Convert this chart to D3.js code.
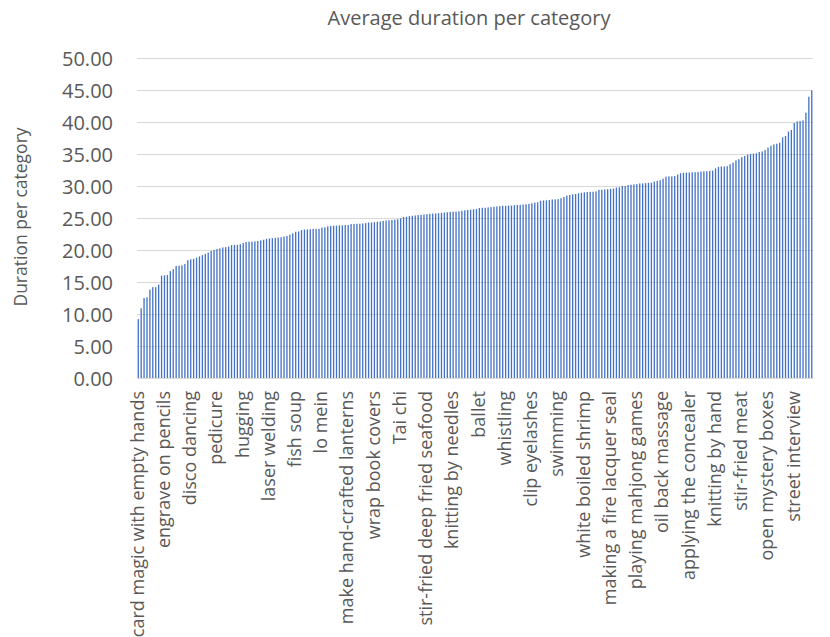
<!DOCTYPE html>
<html>
<head>
<meta charset="utf-8">
<script src="https://cdn.jsdelivr.net/npm/d3@7"></script>
<style>
  html, body { margin: 0; padding: 0; background: #fff; }
  svg { display: block; }
  svg text { font-family: "Open Sans", "Noto Sans", sans-serif; }
</style>
</head>
<body>
<svg id="chart" width="830" height="637"></svg>
<script>
// ---- data ----
const title = "Average duration per category";
const yTitle = "Duration per category";
const yTicks = [0, 5, 10, 15, 20, 25, 30, 35, 40, 45, 50];
const labelEvery = 9;
const tickLabels = [
  "card magic with empty hands", "engrave on pencils", "disco dancing", "pedicure",
  "hugging", "laser welding", "fish soup", "lo mein", "make hand-crafted lanterns",
  "wrap book covers", "Tai chi", "stir-fried deep fried seafood", "knitting by needles",
  "ballet", "whistling", "clip eyelashes", "swimming", "white boiled shrimp",
  "making a fire lacquer seal", "playing mahjong games", "oil back massage",
  "applying the concealer", "knitting by hand", "stir-fried meat",
  "open mystery boxes", "street interview"
];
const values = [
  9.2, 10.9, 12.5, 12.6, 13.8, 14.2, 14.2, 14.6, 16.0, 16.05,
  16.1, 16.7, 17.0, 17.5, 17.55, 17.6, 17.8, 18.4, 18.55, 18.6,
  18.8, 19.0, 19.2, 19.4, 19.6, 19.85, 20.0, 20.15, 20.25, 20.4,
  20.45, 20.55, 20.75, 20.8, 20.8, 20.9, 21.1, 21.25, 21.3, 21.3,
  21.35, 21.4, 21.5, 21.6, 21.75, 21.8, 21.85, 21.9, 21.95, 22.0,
  22.1, 22.2, 22.4, 22.6, 22.85, 22.9, 23.1, 23.2, 23.2, 23.25,
  23.3, 23.3, 23.3, 23.5, 23.55, 23.7, 23.75, 23.8, 23.8, 23.85,
  23.85, 23.9, 23.9, 24.05, 24.05, 24.1, 24.1, 24.15, 24.2, 24.3,
  24.3, 24.35, 24.4, 24.45, 24.55, 24.6, 24.65, 24.7, 24.75, 24.8,
  24.95, 25.15, 25.2, 25.3, 25.35, 25.4, 25.45, 25.5, 25.55, 25.6,
  25.65, 25.7, 25.7, 25.75, 25.8, 25.85, 25.9, 25.95, 26.0, 26.0,
  26.05, 26.15, 26.2, 26.25, 26.3, 26.35, 26.4, 26.55, 26.6, 26.6,
  26.65, 26.7, 26.75, 26.8, 26.85, 26.9, 26.9, 26.95, 26.95, 27.0,
  27.05, 27.05, 27.1, 27.15, 27.2, 27.3, 27.4, 27.45, 27.7, 27.75,
  27.75, 27.8, 27.9, 27.9, 27.95, 28.1, 28.3, 28.5, 28.6, 28.7,
  28.75, 28.85, 28.95, 29.0, 29.05, 29.1, 29.1, 29.15, 29.4, 29.4,
  29.45, 29.5, 29.55, 29.6, 29.75, 29.8, 30.0, 30.0, 30.15, 30.2,
  30.25, 30.3, 30.4, 30.4, 30.45, 30.5, 30.5, 30.7, 30.8, 30.9,
  31.15, 31.45, 31.5, 31.5, 31.55, 31.8, 32.0, 32.05, 32.1, 32.1,
  32.15, 32.15, 32.2, 32.25, 32.3, 32.3, 32.35, 32.4, 32.75, 33.0,
  33.05, 33.05, 33.1, 33.4, 33.65, 34.0, 34.2, 34.5, 34.7, 34.9,
  35.0, 35.05, 35.1, 35.3, 35.4, 35.6, 36.0, 36.3, 36.5, 36.6,
  36.75, 37.6, 37.8, 38.5, 38.75, 39.85, 40.1, 40.15, 40.25, 41.45,
  43.95, 44.95
];

// ---- layout ----
const svg = d3.select("#chart");
const plot = { left: 137, right: 813, top: 58, bottom: 378 };
const font = "'Open Sans', 'Noto Sans', sans-serif";
const textColor = "#595959";
const gridColor = "#d9d9d9";
const barColor = "#4472c4";

const x = d3.scaleBand()
  .domain(d3.range(values.length))
  .range([plot.left, plot.right])
  .paddingInner(0.55)
  .paddingOuter(0.2);

const y = d3.scaleLinear().domain([0, 50]).range([plot.bottom, plot.top]);

// gridlines
svg.append("g")
  .selectAll("line")
  .data(yTicks.filter(d => d > 0))
  .join("line")
  .attr("x1", plot.left).attr("x2", plot.right)
  .attr("y1", d => Math.round(y(d)) + 0.5).attr("y2", d => Math.round(y(d)) + 0.5)
  .attr("stroke", gridColor).attr("stroke-width", 1);

// y axis labels
const yAxis = svg.append("g")
  .attr("transform", `translate(${plot.left - 24},0)`)
  .call(d3.axisLeft(y).tickValues(yTicks).tickFormat(d3.format(".2f")).tickSize(0).tickPadding(0))
  .attr("font-family", font);
yAxis.select(".domain").remove();
yAxis.selectAll("text")
  .attr("fill", textColor)
  .style("font-size", "20px")
  .attr("dy", "0.35em");

// bars
svg.append("g")
  .selectAll("rect")
  .data(values)
  .join("rect")
  .attr("x", (d, i) => x(i))
  .attr("width", x.bandwidth())
  .attr("y", d => y(d))
  .attr("height", d => y(0) - y(d))
  .attr("fill", barColor);

// x axis
const xAxis = svg.append("g")
  .attr("transform", `translate(0,${plot.bottom})`)
  .call(d3.axisBottom(x)
    .tickValues(d3.range(0, values.length, labelEvery).filter(i => i / labelEvery < tickLabels.length))
    .tickFormat(i => tickLabels[i / labelEvery])
    .tickSize(0))
  .attr("font-family", font);
xAxis.select(".domain")
  .attr("stroke", gridColor)
  .attr("d", `M${plot.left},0.5H${plot.right}`);
xAxis.selectAll("text")
  .attr("fill", textColor)
  .style("font-size", "18px")
  .attr("text-anchor", "end")
  .attr("transform", "translate(-1,13) rotate(-90)")
  .attr("x", 0)
  .attr("y", 0)
  .attr("dy", "0.35em");

// title
svg.append("text")
  .attr("x", 469).attr("y", 18)
  .attr("text-anchor", "middle")
  .attr("dy", "0.35em")
  .attr("fill", textColor)
  .style("font-size", "20px")
  .text(title);

// y title
svg.append("text")
  .attr("transform", `translate(21,217) rotate(-90)`)
  .attr("text-anchor", "middle")
  .attr("dy", "0.35em")
  .attr("fill", textColor)
  .style("font-size", "17.5px")
  .text(yTitle);
</script>
</body>
</html>
